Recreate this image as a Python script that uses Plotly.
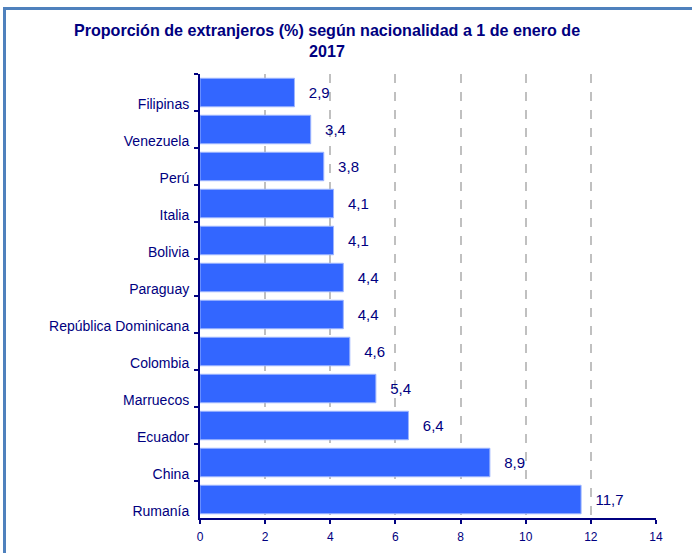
import plotly.graph_objects as go

categories = ["Filipinas", "Venezuela", "Perú", "Italia", "Bolivia", "Paraguay",
              "República Dominicana", "Colombia", "Marruecos", "Ecuador", "China", "Rumanía"]
values = [2.9, 3.4, 3.8, 4.1, 4.1, 4.4, 4.4, 4.6, 5.4, 6.4, 8.9, 11.7]
x_ticks = [0, 2, 4, 6, 8, 10, 12, 14]

NAVY = "#000080"
BAR = "#3366FF"
FRAME = "#4F81BD"

W, H = 692, 553
PL, PR, PT, PB = 200, 656, 74, 518
FX, FY = 4.5, 8.5

fig = go.Figure()
fig.add_trace(go.Bar(
    y=categories, x=values, orientation="h",
    marker=dict(color=BAR, line=dict(color="#9DB5FF", width=1)),
    texttemplate="\u00a0\u00a0\u2009%{x:.1f}",
    textposition="outside",
    textfont=dict(family="Liberation Sans, Arial", size=15, color=NAVY),
    cliponaxis=False,
    width=0.77,
))
fig.add_trace(go.Scatter(
    x=[FX, FX, W + 10], y=[H + 10, FY, FY],
    mode="lines", line=dict(color=FRAME, width=3),
    xaxis="x2", yaxis="y2", hoverinfo="skip", cliponaxis=False, showlegend=False,
))

fig.update_layout(
    width=W, height=H,
    margin=dict(l=0, r=0, t=0, b=0, autoexpand=False),
    paper_bgcolor="white", plot_bgcolor="rgba(0,0,0,0)",
    separators=", ",
    showlegend=False,
    title=dict(
        text="<b>Proporción de extranjeros (%) según nacionalidad a 1 de enero de<br>2017</b>",
        x=327 / W, xanchor="center", xref="container",
        y=1 - 36 / H, yanchor="middle", yref="container",
        font=dict(family="Liberation Sans, Arial", size=16.1, color=NAVY),
    ),
    bargap=0.23,
    xaxis=dict(
        domain=[PL / W, PR / W], range=[0, 14],
        tickvals=x_ticks, ticktext=[str(v) for v in x_ticks],
        showgrid=True, gridcolor="#C0C0C0", griddash="dash", gridwidth=1.5,
        zeroline=False, showline=True, linecolor=NAVY, linewidth=2,
        ticks="outside", ticklen=4, tickcolor=NAVY, tickwidth=2,
        tickfont=dict(family="Liberation Sans, Arial", size=12, color=NAVY),
        ticklabelstandoff=3, automargin=False, fixedrange=True,
    ),
    yaxis=dict(
        domain=[1 - PB / H, 1 - PT / H], autorange="reversed",
        showline=True, linecolor=NAVY, linewidth=2,
        ticks="outside", ticklen=4, tickcolor=NAVY, tickwidth=2,
        tickson="boundaries", showgrid=False,
        tickfont=dict(family="Liberation Sans, Arial", size=14, color=NAVY),
        ticklabelstandoff=6, ticklabelshift=-12,
        automargin=False, fixedrange=True,
    ),
    xaxis2=dict(domain=[0, 1], range=[0, W], visible=False, fixedrange=True,
                anchor="y2", automargin=False),
    yaxis2=dict(domain=[0, 1], range=[H, 0], visible=False, fixedrange=True,
                anchor="x2", automargin=False),
)

fig.write_html("out.html", config={"displayModeBar": False},
               post_script="document.body.style.margin='0px';")
